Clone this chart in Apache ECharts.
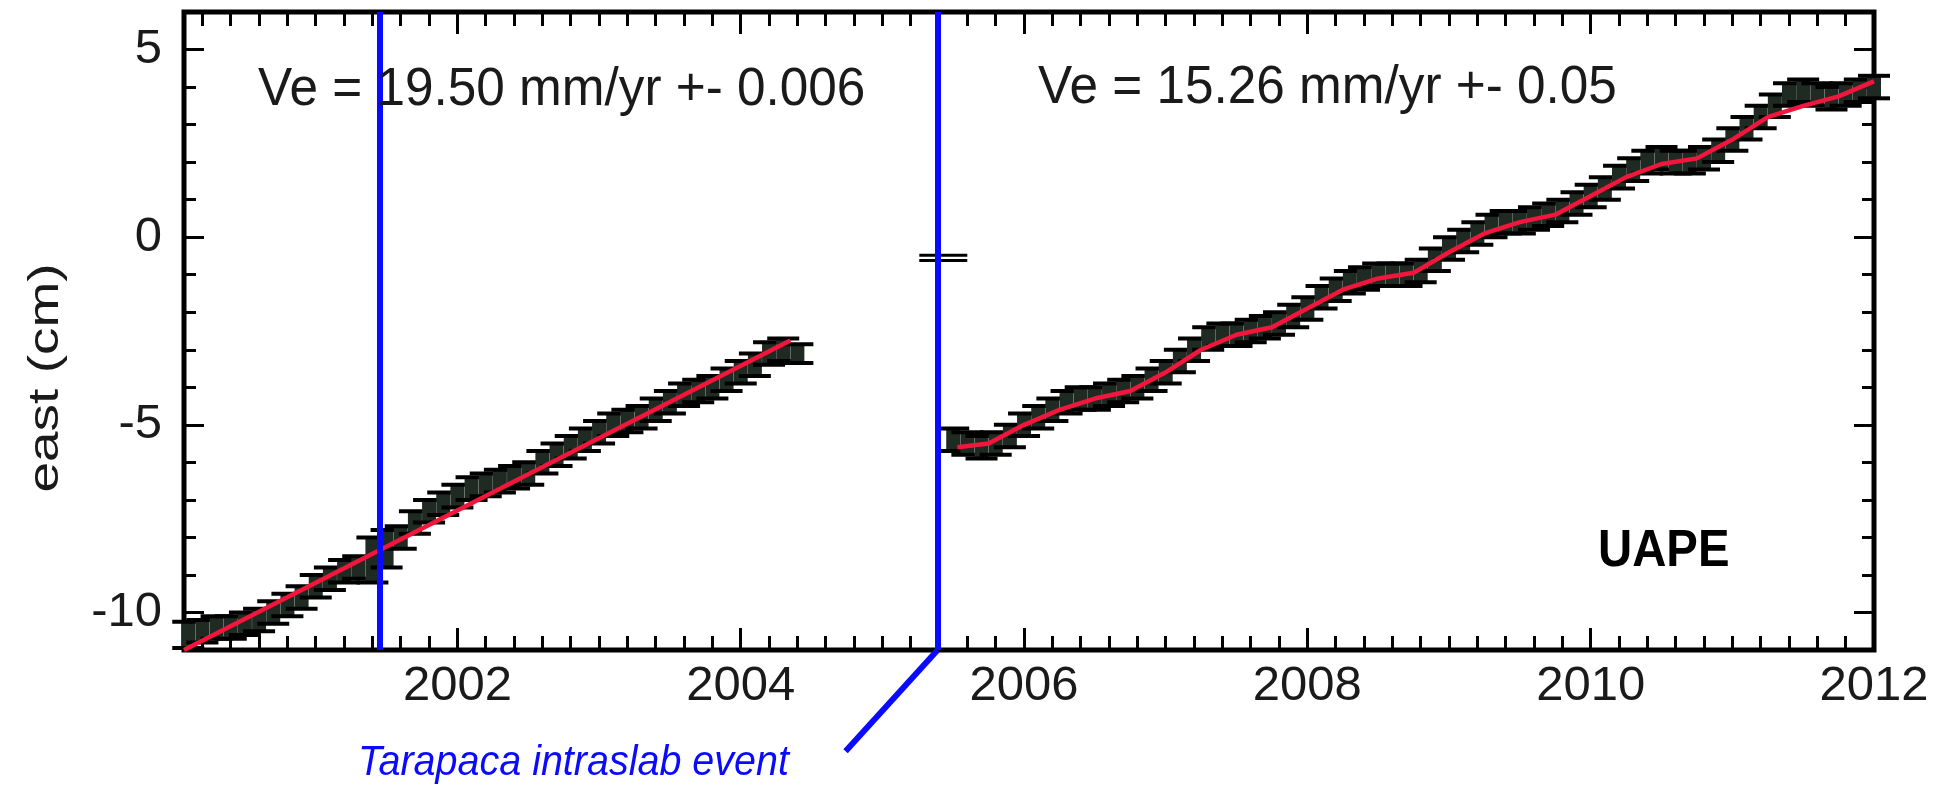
<!DOCTYPE html>
<html>
<head>
<meta charset="utf-8">
<script src="https://cdn.jsdelivr.net/npm/echarts@6/dist/echarts.min.js"></script>
<style>
html,body{margin:0;padding:0;background:#ffffff;}
#chart{width:1954px;height:787px;}
</style>
</head>
<body>
<div id="chart"></div>
<script>
// ---------------- data ----------------
const yearLabels = [2002, 2004, 2006, 2008, 2010, 2012];
const eastLabels = [-10, -5, 0, 5];
const eastMinorTicks = [-9, -8, -7, -6, -4, -3, -2, -1, 1, 2, 3, 4];
const eventYears = [2001.45, 2005.39];
const textVelocityPre = 'Ve = 19.50 mm/yr +- 0.006';
const textVelocityPost = 'Ve = 15.26 mm/yr +- 0.05';
const stationName = 'UAPE';
const eventName = 'Tarapaca intraslab event';
const yAxisTitle = 'east (cm)';

// [year, east (cm), sigma (cm)]
const eastPre = [
  [2000.1,-10.6,0.35],[2000.2,-10.5,0.3],[2000.3,-10.4,0.3],[2000.4,-10.4,0.3],[2000.5,-10.3,0.3],
  [2000.6,-10.2,0.3],[2000.7,-10.0,0.3],[2000.8,-9.8,0.3],[2000.9,-9.6,0.3],[2001.0,-9.3,0.3],
  [2001.1,-9.1,0.3],[2001.2,-8.9,0.3],[2001.3,-8.8,0.3],[2001.4,-8.6,0.6],[2001.5,-8.3,0.5],
  [2001.6,-8.0,0.3],[2001.7,-7.6,0.3],[2001.8,-7.3,0.3],[2001.9,-7.1,0.3],[2002.0,-6.9,0.3],
  [2002.1,-6.7,0.3],[2002.2,-6.6,0.3],[2002.3,-6.5,0.3],[2002.4,-6.4,0.3],[2002.5,-6.3,0.3],
  [2002.6,-6.0,0.3],[2002.7,-5.8,0.3],[2002.8,-5.6,0.3],[2002.9,-5.4,0.3],[2003.0,-5.2,0.3],
  [2003.1,-5.0,0.3],[2003.2,-4.9,0.3],[2003.3,-4.8,0.3],[2003.4,-4.6,0.3],[2003.5,-4.4,0.3],
  [2003.6,-4.2,0.3],[2003.7,-4.1,0.3],[2003.8,-4.0,0.3],[2003.9,-3.8,0.3],[2004.0,-3.6,0.3],
  [2004.1,-3.4,0.3],[2004.2,-3.1,0.3],[2004.3,-3.0,0.3],[2004.4,-3.1,0.25]
];
const eastOutlier = [[2005.43,-0.55,0.07]];
const eastPost = [
  [2005.5,-5.4,0.3],[2005.6,-5.5,0.3],[2005.7,-5.6,0.3],[2005.8,-5.5,0.3],[2005.9,-5.3,0.3],
  [2006.0,-5.0,0.3],[2006.1,-4.8,0.3],[2006.2,-4.6,0.3],[2006.3,-4.4,0.3],[2006.4,-4.3,0.3],
  [2006.5,-4.3,0.3],[2006.6,-4.2,0.3],[2006.7,-4.1,0.3],[2006.8,-4.0,0.3],[2006.9,-3.8,0.3],
  [2007.0,-3.6,0.3],[2007.1,-3.3,0.3],[2007.2,-3.0,0.3],[2007.3,-2.7,0.3],[2007.4,-2.6,0.3],
  [2007.5,-2.6,0.3],[2007.6,-2.5,0.3],[2007.7,-2.4,0.3],[2007.8,-2.3,0.3],[2007.9,-2.1,0.3],
  [2008.0,-1.9,0.3],[2008.1,-1.6,0.3],[2008.2,-1.4,0.3],[2008.3,-1.2,0.3],[2008.4,-1.1,0.3],
  [2008.5,-1.0,0.3],[2008.6,-1.0,0.3],[2008.7,-1.0,0.3],[2008.8,-0.9,0.3],[2008.9,-0.6,0.3],
  [2009.0,-0.3,0.3],[2009.1,-0.1,0.3],[2009.2,0.1,0.3],[2009.3,0.3,0.3],[2009.4,0.4,0.3],
  [2009.5,0.4,0.3],[2009.6,0.5,0.3],[2009.7,0.6,0.3],[2009.8,0.7,0.3],[2009.9,0.9,0.3],
  [2010.0,1.1,0.3],[2010.1,1.3,0.3],[2010.2,1.6,0.3],[2010.3,1.8,0.3],[2010.4,2.0,0.3],
  [2010.5,2.1,0.3],[2010.6,2.0,0.3],[2010.7,2.0,0.3],[2010.8,2.1,0.3],[2010.9,2.3,0.3],
  [2011.0,2.6,0.3],[2011.1,2.9,0.3],[2011.2,3.2,0.3],[2011.3,3.5,0.3],[2011.4,3.8,0.3],
  [2011.5,3.9,0.3],[2011.6,3.8,0.3],[2011.7,3.7,0.3],[2011.8,3.8,0.3],[2011.9,3.9,0.3],
  [2012.0,4.0,0.3]
];
const fitPre = [[2000.07,-11.0],[2004.35,-2.75]];
const fitPost = [
  [2005.53,-5.6],[2005.75,-5.5],[2006.0,-5.0],[2006.25,-4.6],[2006.5,-4.3],[2006.75,-4.1],
  [2007.0,-3.6],[2007.25,-3.0],[2007.5,-2.6],[2007.75,-2.4],[2008.0,-1.9],[2008.25,-1.4],
  [2008.5,-1.1],[2008.75,-0.95],[2009.0,-0.4],[2009.25,0.1],[2009.5,0.4],[2009.75,0.6],
  [2010.0,1.1],[2010.25,1.6],[2010.5,1.95],[2010.75,2.1],[2011.0,2.6],[2011.25,3.2],
  [2011.5,3.5],[2011.75,3.75],[2012.0,4.15]
];
const eventPointer = [[2005.39,-11.0],[2004.74,-13.7]];

// ---------------- layout / style ----------------
const X_MIN = 2000.07, X_MAX = 2012, Y_MIN = -11, Y_MAX = 6;
const FONT = '"Liberation Sans", Arial, Helvetica, sans-serif';
const BLUE = '#0a0aff';
const RED = '#f2163c';

const minorYears = [];
for (let i = 10001; i <= 10060; i++) { if (i % 10 !== 0) minorYears.push(i / 5); }

function xAx(position, ticks, len, showLabel) {
  return {
    type: 'value', min: X_MIN, max: X_MAX, position: position, gridIndex: 0,
    axisLine: { show: false, onZero: false }, splitLine: { show: false },
    axisTick: { show: true, inside: true, length: len, customValues: ticks, lineStyle: { color: '#000', width: 3 } },
    axisLabel: showLabel ? { show: true, customValues: ticks, formatter: v => String(v), fontSize: 49, fontFamily: FONT, color: '#1a1a1a', margin: 12 } : { show: false }
  };
}
function yAx(position, ticks, len, showLabel) {
  return {
    type: 'value', min: Y_MIN, max: Y_MAX, position: position, gridIndex: 0,
    axisLine: { show: false, onZero: false }, splitLine: { show: false },
    axisTick: { show: true, inside: true, length: len, customValues: ticks, lineStyle: { color: '#000', width: 3 } },
    axisLabel: showLabel ? { show: true, customValues: ticks, formatter: v => String(v), fontSize: 49, fontFamily: FONT, color: '#1a1a1a', margin: 22 } : { show: false }
  };
}

function errorBars(halfCap, barHalf, capWidth) {
  return function (params, api) {
    const x = api.value(0), y = api.value(1), s = api.value(2);
    const c = api.coord([x, y]);
    const t = api.coord([x, y + s]);
    const b = api.coord([x, y - s]);
    const children = [];
    if (barHalf > 0) {
      children.push({ type: 'rect', shape: { x: c[0] - barHalf, y: t[1], width: barHalf * 2, height: b[1] - t[1] }, style: { fill: '#1f2a22' } });
    }
    children.push({ type: 'line', shape: { x1: c[0] - halfCap, y1: t[1], x2: c[0] + halfCap, y2: t[1] }, style: { stroke: '#000', lineWidth: capWidth } });
    children.push({ type: 'line', shape: { x1: c[0] - halfCap, y1: b[1], x2: c[0] + halfCap, y2: b[1] }, style: { stroke: '#000', lineWidth: capWidth } });
    return { type: 'group', children: children };
  };
}

const chart = echarts.init(document.getElementById('chart'), null, { renderer: 'canvas' });
chart.setOption({
  backgroundColor: '#ffffff',
  animation: false,
  grid: { left: 184, right: 80, top: 12, bottom: 137, show: true, borderColor: '#000', borderWidth: 5, backgroundColor: 'transparent' },
  xAxis: [
    xAx('bottom', yearLabels, 22, true),
    xAx('bottom', minorYears, 14, false),
    xAx('top', yearLabels, 22, false),
    xAx('top', minorYears, 14, false)
  ],
  yAxis: [
    yAx('left', eastLabels, 20, true),
    yAx('left', eastMinorTicks, 12, false),
    yAx('right', eastLabels, 20, false),
    yAx('right', eastMinorTicks, 12, false)
  ],
  series: [
    { type: 'custom', name: 'east pre', xAxisIndex: 0, yAxisIndex: 0, data: eastPre, encode: { x: 0, y: 1 }, renderItem: errorBars(16, 7, 4), z: 2 },
    { type: 'custom', name: 'east post', xAxisIndex: 0, yAxisIndex: 0, data: eastPost, encode: { x: 0, y: 1 }, renderItem: errorBars(16, 7, 4), z: 2 },
    { type: 'custom', name: 'outlier', xAxisIndex: 0, yAxisIndex: 0, data: eastOutlier, encode: { x: 0, y: 1 }, renderItem: errorBars(24, 0, 3), z: 2 },
    { type: 'line', name: 'fit pre', xAxisIndex: 0, yAxisIndex: 0, data: fitPre, symbol: 'none', lineStyle: { color: RED, width: 4.5 }, z: 3,
      markLine: { silent: true, symbol: ['none', 'none'], label: { show: false }, lineStyle: { color: BLUE, width: 6, type: 'solid' },
        data: eventYears.map(v => ({ xAxis: v })) } },
    { type: 'line', name: 'fit post', xAxisIndex: 0, yAxisIndex: 0, data: fitPost, symbol: 'none', lineStyle: { color: RED, width: 4.5 }, z: 3 },
    { type: 'line', name: 'pointer', xAxisIndex: 0, yAxisIndex: 0, data: eventPointer, symbol: 'none', clip: false, lineStyle: { color: BLUE, width: 6 }, z: 4 }
  ],
  graphic: [
    { type: 'text', x: 258, y: 90, scaleX: 0.95, style: { text: textVelocityPre, font: '54px ' + FONT, fill: '#1a1a1a', align: 'left', verticalAlign: 'middle' }, z: 10 },
    { type: 'text', x: 1038, y: 88, scaleX: 0.95, style: { text: textVelocityPost, font: '54px ' + FONT, fill: '#1a1a1a', align: 'left', verticalAlign: 'middle' }, z: 10 },
    { type: 'text', x: 1598, y: 552, scaleX: 0.91, style: { text: stationName, font: 'bold 52px ' + FONT, fill: '#000', align: 'left', verticalAlign: 'middle' }, z: 10 },
    { type: 'text', x: 358, y: 763, scaleX: 0.94, style: { text: eventName, font: 'italic 42px ' + FONT, fill: BLUE, align: 'left', verticalAlign: 'middle' }, z: 10 },
    { type: 'text', x: 46, y: 378, rotation: Math.PI / 2, scaleX: 1.1, scaleY: 0.85, style: { text: yAxisTitle, font: '50px ' + FONT, fill: '#1a1a1a', align: 'center', verticalAlign: 'middle' }, z: 10 }
  ]
});
</script>
</body>
</html>
